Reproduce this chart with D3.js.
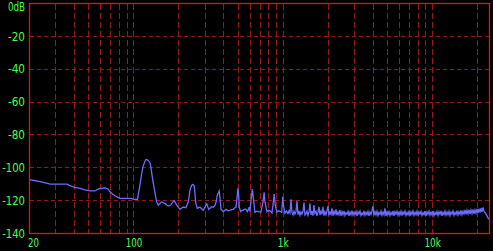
<!DOCTYPE html>
<html><head><meta charset="utf-8">
<script src="https://cdn.jsdelivr.net/npm/d3@7"></script>
<style>html,body{margin:0;padding:0;background:#000;}svg{display:block;}</style>
</head><body>
<script>
// ---- data ----
const yTickValues = [0, -20, -40, -60, -80, -100, -120, -140];
const yTickLabels = ["0dB", "-20", "-40", "-60", "-80", "-100", "-120", "-140"];
const xTickValues = [20, 100, 1000, 10000];
const xTickLabels = ["20", "100", "1k", "10k"];
const xGridValues = [30,40,50,60,70,80,90,100,200,300,400,500,600,700,800,900,1000,
  2000,3000,4000,5000,6000,7000,8000,9000,10000,20000];
const yGridValues = [-20, -40, -60, -80, -100, -120];

// spectrum below ~1 kHz: [frequency Hz, level dB]
const lowSpectrum = [
 [20,-107.3],[21.2,-107.9],[23.7,-108.7],[27,-110.0],[27.6,-110.2],[30,-110.2],[33,-110.2],[35.9,-110.3],
 [37.6,-111.2],[40.6,-112.2],[43.9,-112.8],[47.4,-113.8],[51.2,-114.4],[55.3,-114.4],[56.6,-113.8],
 [59.8,-112.8],[64.5,-112.6],[67.6,-113.2],[69.7,-114.9],[72.4,-116.3],[75.3,-117.3],[78.8,-118.3],
 [81.3,-118.9],[90.6,-118.9],[96.3,-118.9],[100.9,-119.5],[106.5,-119.5],[108.5,-115],[110.7,-110.5],
 [113,-105],[115.9,-99.6],[119.5,-96.3],[121.5,-95.2],[123.3,-95.3],[126,-96.0],[129.1,-97.2],
 [131,-100],[133.1,-104.5],[136,-110],[139.4,-115.5],[143,-121],[146.7,-123],[150.6,-122],
 [154.6,-121.1],[158,-121.6],[162.7,-122],[167,-123],[171.1,-123.6],[177.6,-123],[182,-121.5],
 [186.9,-120.3],[190,-121.2],[194.8,-123],[205,-125.6],[215.7,-124.2],[224.8,-124.6],[233,-121],
 [239.2,-113.8],[245,-111],[250,-110.4],[255.6,-111.4],[261.2,-121.8],[267.6,-125],[273,-124.6],
 [279,-124.2],[286,-125.2],[293.6,-126.2],[300,-124.5],[309.5,-122.2],[319,-125.6],[334,-124],
 [343,-124.3],[351.6,-123.2],[358,-121],[364,-117.1],[375,-114.4],[379.7,-118.6],[386,-125.6],
 [393,-126.3],[399.6,-127],[408,-126.3],[416.6,-125.6],[430,-126.5],[443,-126.2],[454,-125.8],
 [466,-125.6],[476,-124.8],[486,-124.2],[495.8,-117],[500,-112.8],[505,-115],[511,-124.2],[522,-127],
 [532,-126.3],[543.8,-126.2],[556,-125.5],[567,-125.6],[578,-127],[590,-125.5],[596.6,-124.2],
 [603,-127],[613,-120],[625,-113.2],[634,-118],[651,-127.5],[666,-126.8],[682,-126.8],[698,-127.2],
 [714,-127.3],[737,-121],[750,-115.2],[760,-121],[783,-127],[800,-126.2],[821,-126.5],[846,-127.8],
 [862,-122],[875,-116.3],[890,-123],[914,-127.4],[935,-126.5],[957,-126.8],[983,-127.5],[1000,-117.9],
 [1013,-124],[1034,-128],[1058,-126.5]
];

// dense FFT bins from 1083 Hz to 24 kHz (log-spaced bins), level dB
const hfStart = 1083, hfEnd = 24000;
const hfLevels = [
 -128.2,-126.5,-127.8,-119.5,-127.5,-129.0,-126.8,-128.5,-127.0,-120.5,
 -128.8,-126.6,-129.2,-127.2,-128.5,-126.9,-121.5,-129.0,-128.2,-126.8,
 -129.3,-127.4,-121.9,-128.9,-126.7,-129.4,-123.0,-128.0,-126.9,-129.5,
 -127.3,-124.0,-129.1,-126.8,-128.6,-124.0,-129.4,-127.1,-128.9,-126.6,
 -123.6,-129.2,-127.3,-128.7,-125.0,-129.5,-126.9,-128.4,-125.6,-129.3,
 -127.2,-128.8,-126.0,-129.6,-127.0,-128.9,-126.5,-129.3,-127.6,-128.6,
 -126.8,-129.5,-127.3,-128.9,-126.4,-129.1,-127.5,-128.7,-126.9,-129.6,
 -127.1,-128.4,-126.7,-129.4,-127.8,-128.9,-126.6,-129.2,-127.4,-128.8,
 -126.9,-129.5,-127.2,-128.7,-126.5,-123.6,-129.3,-127.1,-128.9,-126.8,
 -129.4,-127.5,-128.6,-126.7,-129.2,-127.3,-128.9,-125.0,-129.6,-127.2,
 -128.7,-126.9,-129.3,-127.5,-128.8,-126.6,-129.5,-127.1,-128.5,-126.9,
 -129.2,-127.4,-128.9,-126.8,-129.4,-127.2,-128.6,-126.7,-129.3,-127.5,
 -128.8,-126.9,-129.5,-127.1,-128.7,-126.6,-129.2,-127.4,-128.9,-126.8,
 -129.4,-127.2,-128.5,-126.9,-129.3,-127.6,-128.8,-126.7,-129.6,-127.1,
 -128.6,-126.8,-129.2,-127.3,-128.9,-126.5,-129.4,-127.5,-128.7,-126.9,
 -129.3,-127.1,-128.6,-126.6,-129.5,-127.4,-128.8,-126.7,-129.1,-127.2,
 -128.9,-126.8,-129.4,-127.3,-128.5,-126.6,-129.2,-127.5,-128.7,-126.4,
 -129.0,-127.0,-128.6,-126.3,-128.9,-126.8,-128.4,-126.0,-128.6,-126.2,
 -128.3,-125.8,-128.5,-126.0,-128.1,-125.6,-128.3,-125.9,-127.9,-125.4,
 -127.8,-125.2,-127.6,-124.8,-127.2,-124.4,-126.8,-127.5,-128.5,-129.6,
 -130.8,-131.7
];

// ---- chart ----
const W = 493, H = 251;
const pL = 29, pR = 489, pT = 3, pB = 233;
const svg = d3.select("body").append("svg").attr("width", W).attr("height", H);
svg.append("rect").attr("width", W).attr("height", H).attr("fill", "#000");

const xs = d3.scaleLog().domain([20, 24000]).range([pL, pR]);
const ys = d3.scaleLinear().domain([0, -140]).range([pT, pB]);

const gridColor = "#981818";
const g = svg.append("g");
g.selectAll("line.vg").data(xGridValues).join("line").attr("class", "vg")
  .attr("x1", d => Math.round(xs(d)) + 0.5).attr("x2", d => Math.round(xs(d)) + 0.5)
  .attr("y1", pT + 1).attr("y2", pB)
  .attr("stroke", gridColor).attr("stroke-width", 1).attr("stroke-dasharray", "6,3");
g.selectAll("line.hg").data(yGridValues).join("line").attr("class", "hg")
  .attr("x1", pL + 1).attr("x2", pR)
  .attr("y1", d => Math.round(ys(d)) + 0.5).attr("y2", d => Math.round(ys(d)) + 0.5)
  .attr("stroke", gridColor).attr("stroke-width", 1).attr("stroke-dasharray", "4,3");

// spectrum data
const n = hfLevels.length;
const hfData = hfLevels.map((v, i) => [hfStart * Math.pow(hfEnd / hfStart, i / (n - 1)), v]);
const spectrum = lowSpectrum.concat(hfData);

const line = d3.line().x(d => xs(d[0])).y(d => ys(d[1]));
svg.append("path").datum(spectrum).attr("d", line)
  .attr("fill", "none").attr("stroke", "#6c6cff").attr("stroke-width", 1.3);

// border
svg.append("rect").attr("x", pL + 0.5).attr("y", pT + 0.5)
  .attr("width", pR - pL).attr("height", pB - pT)
  .attr("fill", "none").attr("stroke", "#ee1010").attr("stroke-width", 1.3);

// labels
const txtColor = "#4cff4c";
const font = "'DejaVu Sans', sans-serif";
svg.selectAll("text.yl").data(yTickValues).join("text").attr("class", "yl")
  .attr("x", 25).attr("y", (d, i) => i === 0 ? 10.5 : ys(d) + 4.7)
  .attr("text-anchor", "end").attr("fill", txtColor)
  .attr("font-family", font).attr("font-size", "12.5px")
  .attr("textLength", (d, i) => yTickLabels[i].length * 5.7).attr("lengthAdjust", "spacingAndGlyphs")
  .text((d, i) => yTickLabels[i]);

svg.selectAll("text.xl").data(xTickValues).join("text").attr("class", "xl")
  .attr("x", (d, i) => i === 0 ? 28 : xs(d) + 0.5)
  .attr("y", 246.7)
  .attr("text-anchor", (d, i) => i === 0 ? "start" : "middle").attr("fill", txtColor)
  .attr("font-family", font).attr("font-size", "12.5px")
  .attr("textLength", (d, i) => xTickLabels[i].length * 5.5).attr("lengthAdjust", "spacingAndGlyphs")
  .text((d, i) => xTickLabels[i]);
</script>
</body></html>
